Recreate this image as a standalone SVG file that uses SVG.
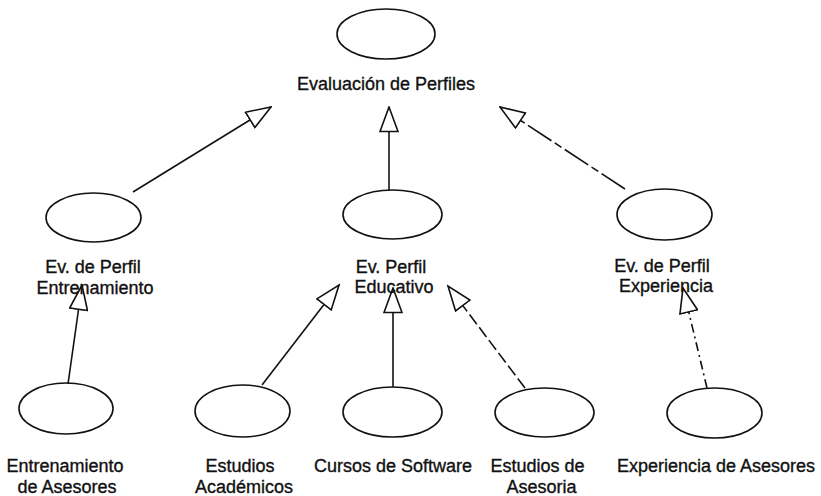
<svg xmlns="http://www.w3.org/2000/svg" width="821" height="496" viewBox="0 0 821 496">
<style>
.n{fill:none;stroke:#111;stroke-width:1.6}
.t{font-family:"Liberation Sans",Arial,sans-serif;font-size:18px;fill:#111;stroke:#111;stroke-width:0.35;text-anchor:middle}
.c{fill:none;stroke:#111;stroke-width:1.6}
.d1{stroke-dasharray:12 4}
.d2{stroke-dasharray:9 4 2 4}
.d3{stroke-dasharray:28 4 8 4}
</style>
<defs>
<marker id="gen" markerUnits="userSpaceOnUse" viewBox="0 0 27 20" refX="25.5" refY="10" markerWidth="27" markerHeight="20" orient="auto">
<path d="M1,1 L25.5,10 L1,19 Z" fill="#fff" stroke="#111" stroke-width="1.6" stroke-linejoin="miter"/>
</marker>
</defs>
<rect width="821" height="496" fill="#fff"/>
<g id="connectors">
<line class="c" x1="133" y1="192" x2="271" y2="107" marker-end="url(#gen)"/>
<line class="c" x1="389" y1="190" x2="389" y2="107" marker-end="url(#gen)"/>
<line class="c d3" x1="625" y1="189" x2="500" y2="107" marker-end="url(#gen)"/>
<line class="c" x1="68" y1="384" x2="82" y2="285" marker-end="url(#gen)"/>
<line class="c" x1="262" y1="385" x2="339" y2="285" marker-end="url(#gen)"/>
<line class="c" x1="393" y1="387" x2="393" y2="288" marker-end="url(#gen)"/>
<line class="c d1" x1="525" y1="388" x2="448" y2="286" marker-end="url(#gen)"/>
<line class="c d2" x1="707" y1="388" x2="683" y2="288" marker-end="url(#gen)"/>
</g>
<g id="evaluacion">
<ellipse class="n" cx="386" cy="34" rx="49" ry="25"/>
<text class="t" x="386" y="90">Evaluación de Perfiles</text>
</g>
<g id="perfil-entrenamiento">
<ellipse class="n" cx="93.5" cy="217.5" rx="47.5" ry="24.5"/>
<text class="t" x="93" y="273">Ev. de Perfil</text>
<text class="t" x="95" y="294">Entrenamiento</text>
</g>
<g id="perfil-educativo">
<ellipse class="n" cx="392.5" cy="214.5" rx="49.5" ry="24.5"/>
<text class="t" x="391" y="273">Ev. Perfil</text>
<text class="t" x="394" y="293">Educativo</text>
</g>
<g id="perfil-experiencia">
<ellipse class="n" cx="664.5" cy="214.5" rx="47.5" ry="25.5"/>
<text class="t" x="662" y="272">Ev. de Perfil</text>
<text class="t" x="666" y="292">Experiencia</text>
</g>
<g id="entrenamiento-asesores">
<ellipse class="n" cx="66" cy="408.5" rx="47" ry="25.5"/>
<text class="t" x="65" y="472">Entrenamiento</text>
<text class="t" x="67" y="493">de Asesores</text>
</g>
<g id="estudios-academicos">
<ellipse class="n" cx="242.5" cy="411" rx="47.5" ry="26"/>
<text class="t" x="240" y="472">Estudios</text>
<text class="t" x="244" y="493">Académicos</text>
</g>
<g id="cursos-software">
<ellipse class="n" cx="392.5" cy="412" rx="49.5" ry="25"/>
<text class="t" x="393" y="472">Cursos de Software</text>
</g>
<g id="estudios-asesoria">
<ellipse class="n" cx="544.5" cy="412.5" rx="49.5" ry="24.5"/>
<text class="t" x="537.5" y="472">Estudios de</text>
<text class="t" x="541.5" y="493">Asesoria</text>
</g>
<g id="experiencia-asesores">
<ellipse class="n" cx="714.5" cy="413" rx="47.5" ry="25"/>
<text class="t" x="716" y="472">Experiencia de Asesores</text>
</g>
</svg>
